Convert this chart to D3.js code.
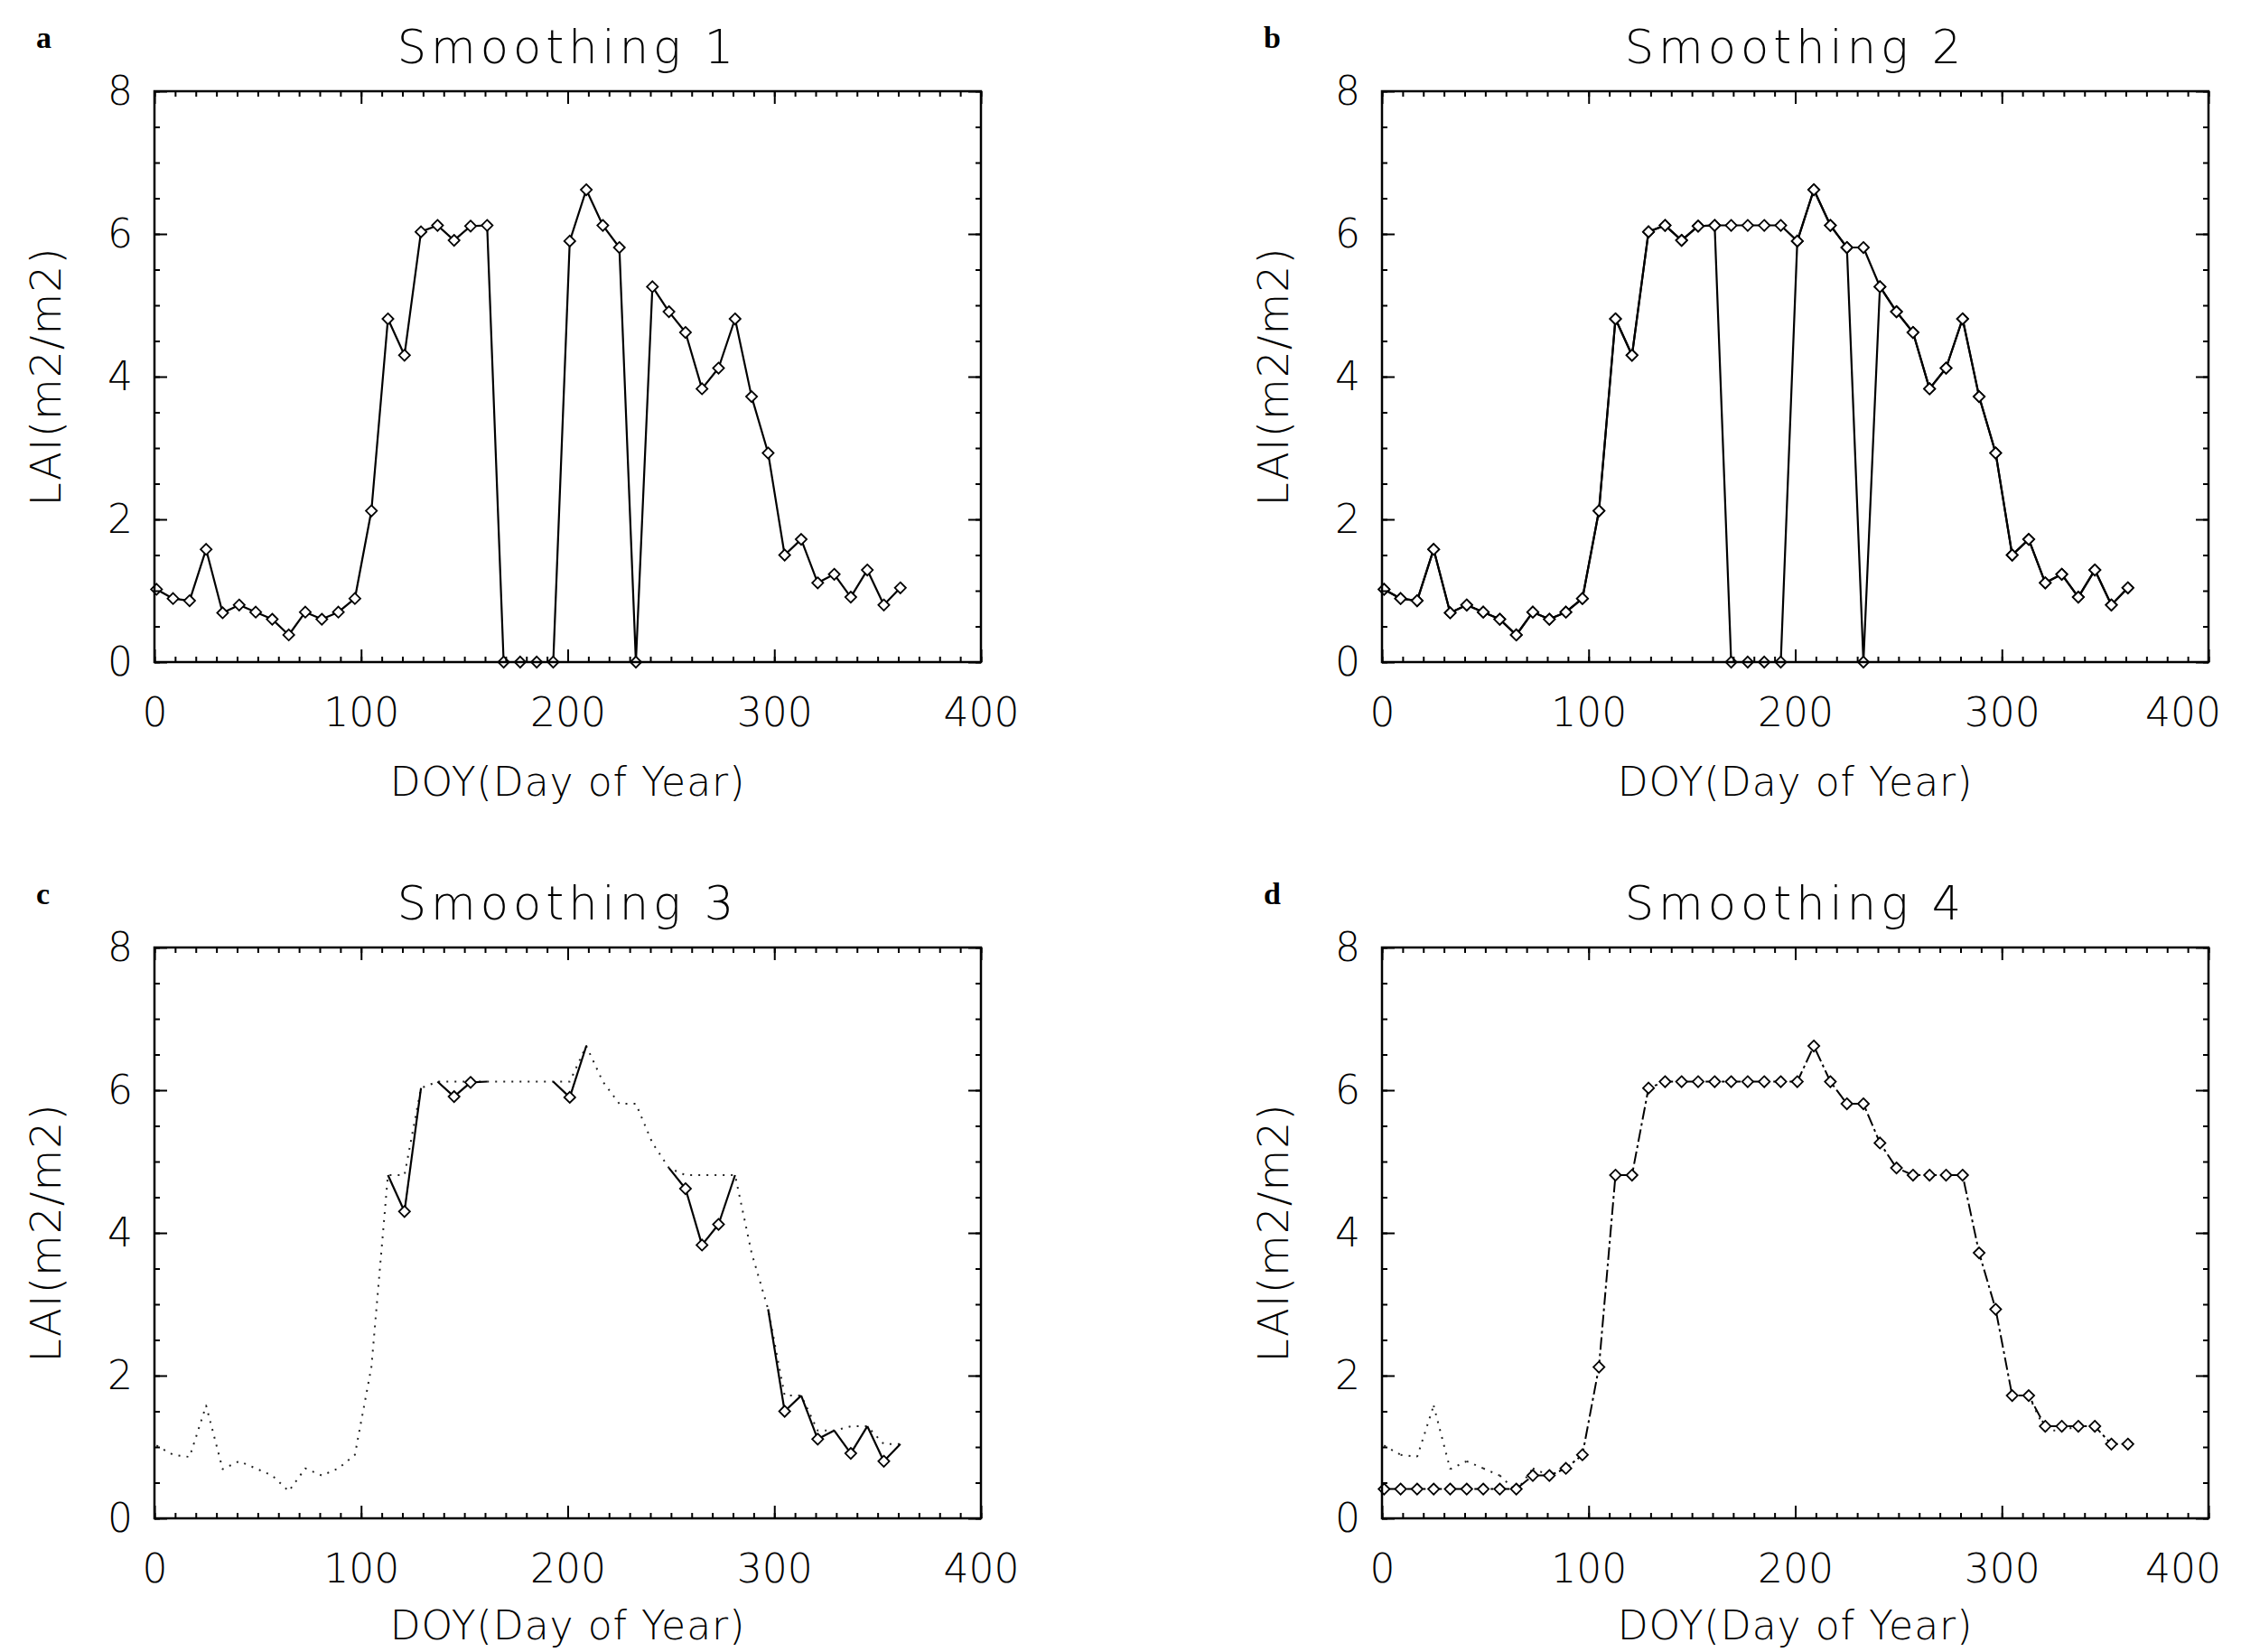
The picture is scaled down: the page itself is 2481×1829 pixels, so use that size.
<!DOCTYPE html>
<html>
<head>
<meta charset="utf-8">
<script src="https://cdn.jsdelivr.net/npm/d3@7"></script>
<style>
  body { margin: 0; background: #fff; }
  svg text { font-family: "DejaVu Sans", "Liberation Sans", sans-serif; font-weight: 300; fill: #000; }
</style>
</head>
<body>
<svg id="chart" width="2481" height="1829"></svg>
<script>
// 8-day composite days of year
const doy = [1, 9, 17, 25, 33, 41, 49, 57, 65, 73, 81, 89, 97, 105, 113, 121, 129, 137, 145, 153,
  161, 169, 177, 185, 193, 201, 209, 217, 225, 233, 241, 249, 257, 265, 273, 281, 289, 297, 305, 313,
  321, 329, 337, 345, 353, 361];

// LAI after each smoothing step
const laiSmooth1 = [1.02, 0.89, 0.86, 1.58, 0.69, 0.80, 0.70, 0.60, 0.38, 0.70, 0.60, 0.70, 0.89, 2.12,
  4.81, 4.30, 6.03, 6.12, 5.91, 6.11, 6.12, 0, 0, 0, 0, 5.90, 6.62, 6.12, 5.81, 0, 5.26, 4.91, 4.62,
  3.83, 4.12, 4.81, 3.72, 2.93, 1.50, 1.72, 1.11, 1.23, 0.91, 1.29, 0.80, 1.04];
const laiSmooth2 = [1.02, 0.89, 0.86, 1.58, 0.69, 0.80, 0.70, 0.60, 0.38, 0.70, 0.60, 0.70, 0.89, 2.12,
  4.81, 4.30, 6.03, 6.12, 5.91, 6.11, 6.12, 6.12, 6.12, 6.12, 6.12, 5.90, 6.62, 6.12, 5.81, 5.81, 5.26,
  4.91, 4.62, 3.83, 4.12, 4.81, 3.72, 2.93, 1.50, 1.72, 1.11, 1.23, 0.91, 1.29, 0.80, 1.04];
const laiSmooth3 = [1.02, 0.89, 0.86, 1.58, 0.69, 0.80, 0.70, 0.60, 0.38, 0.70, 0.60, 0.70, 0.89, 2.12,
  4.81, 4.81, 6.03, 6.12, 6.12, 6.12, 6.12, 6.12, 6.12, 6.12, 6.12, 6.12, 6.62, 6.12, 5.81, 5.81, 5.26,
  4.91, 4.81, 4.81, 4.81, 4.81, 3.72, 2.93, 1.72, 1.72, 1.23, 1.23, 1.29, 1.29, 1.04, 1.04];
const laiSmooth4 = [0.41, 0.41, 0.41, 0.41, 0.41, 0.41, 0.41, 0.41, 0.41, 0.60, 0.60, 0.70, 0.89, 2.12,
  4.81, 4.81, 6.03, 6.12, 6.12, 6.12, 6.12, 6.12, 6.12, 6.12, 6.12, 6.12, 6.62, 6.12, 5.81, 5.81, 5.26,
  4.91, 4.81, 4.81, 4.81, 4.81, 3.72, 2.93, 1.72, 1.72, 1.29, 1.29, 1.29, 1.29, 1.04, 1.04];

const panelTitles = ["Smoothing 1", "Smoothing 2", "Smoothing 3", "Smoothing 4"];
const panelLetters = ["a", "b", "c", "d"];
const xTickValues = [0, 100, 200, 300, 400];
const yTickValues = [0, 2, 4, 6, 8];
const xTitle = "DOY(Day of Year)";
const yTitle = "LAI(m2/m2)";

// which series go in which panel
// onlyWhereDiffers: draw just the segments where this series leaves the other one
const panelSeries = [
  [{ values: laiSmooth1, kind: "solid" }],
  [{ values: laiSmooth1, kind: "solid" }, { values: laiSmooth2, kind: "solid" }],
  [{ values: laiSmooth3, kind: "dotted" }, { values: laiSmooth2, kind: "solid", onlyWhereDiffers: laiSmooth3 }],
  [{ values: laiSmooth3, kind: "dotted", onlyWhereDiffers: laiSmooth4 }, { values: laiSmooth4, kind: "dashdot" }],
];

const lineStyles = {
  solid: { width: 2.2, dash: null, color: "#000", markers: true },
  dotted: { width: 2, dash: "2,7", color: "#222", markers: false },
  dashdot: { width: 2, dash: "14,4,3,4", color: "#000", markers: true },
};

const PAGE_W = 2481, PAGE_H = 1829;
const W = 915, H = 632;
// left, top, gap below plot for the x title
const panelPos = [[171, 101, 148], [1530, 101, 148], [171, 1049, 134], [1530, 1049, 134]];

const svg = d3.select("#chart");
svg.append("rect").attr("width", PAGE_W).attr("height", PAGE_H).attr("fill", "#fff");

const x = d3.scaleLinear().domain([0, 400]).range([0, W]);
const y = d3.scaleLinear().domain([0, 8]).range([H, 0]);
const line = d3.line().x(d => x(d.doy)).y(d => y(d.lai));
const diamond = d3.symbol().type(d3.symbolDiamond2 || d3.symbolDiamond).size(95);

function drawAxes(g) {
  const major = 14, minor = 6;
  const parts = [
    [d3.axisBottom(x).tickValues(xTickValues).tickSize(-major).tickPadding(40), [0, H], true],
    [d3.axisBottom(x).ticks(40).tickSize(-minor).tickFormat(""), [0, H], false],
    [d3.axisTop(x).tickValues(xTickValues).tickSize(-major).tickFormat(""), [0, 0], false],
    [d3.axisTop(x).ticks(40).tickSize(-minor).tickFormat(""), [0, 0], false],
    [d3.axisLeft(y).tickValues(yTickValues).tickSize(-major).tickPadding(24), [0, 0], true],
    [d3.axisLeft(y).ticks(16).tickSize(-minor).tickFormat(""), [0, 0], false],
    [d3.axisRight(y).tickValues(yTickValues).tickSize(-major).tickFormat(""), [W, 0], false],
    [d3.axisRight(y).ticks(16).tickSize(-minor).tickFormat(""), [W, 0], false],
  ];
  parts.forEach(([axis, tr, labels]) => {
    const a = g.append("g").attr("transform", `translate(${tr[0]},${tr[1]})`).call(axis);
    a.attr("font-family", null).attr("font-size", null);
    a.select(".domain").remove();
    a.selectAll(".tick line").attr("stroke", "#000").attr("stroke-width", 2);
    if (labels) {
      a.selectAll(".tick text").attr("font-size", 44).attr("fill", "#000");
    }
  });
  g.append("rect").attr("width", W).attr("height", H)
    .attr("fill", "none").attr("stroke", "#000").attr("stroke-width", 2.5);
}

// the last x label sits pulled in from the page edge, as in the printed figure
function keepLabelsOnPage(g, left) {
  g.selectAll(".tick text").each(function () {
    const b = this.getBBox();
    const tr = this.parentNode.transform.baseVal.consolidate();
    const tx = tr ? tr.matrix.e : 0;
    const right = left + tx + b.x + b.width;
    const limit = PAGE_W - 22;
    if (right > limit) d3.select(this).attr("x", (+d3.select(this).attr("x") || 0) - (right - limit));
  });
}

function drawSeries(g, s) {
  const st = lineStyles[s.kind];
  const pts = doy.map((d, i) => ({ doy: d, lai: s.values[i], i }));
  const differs = i => !s.onlyWhereDiffers || Math.abs(s.values[i] - s.onlyWhereDiffers[i]) > 1e-6;
  const segs = s.onlyWhereDiffers
    ? d3.pairs(pts).filter(([a, b]) => differs(a.i) || differs(b.i))
    : [pts];
  g.append("g").selectAll("path").data(segs).join("path")
    .attr("d", line)
    .attr("fill", "none")
    .attr("stroke", st.color)
    .attr("stroke-width", st.width)
    .attr("stroke-dasharray", st.dash)
    .attr("stroke-linejoin", "round");
  if (st.markers) {
    g.append("g").selectAll("path").data(pts.filter(p => differs(p.i))).join("path")
      .attr("transform", d => `translate(${x(d.doy)},${y(d.lai)})`)
      .attr("d", diamond)
      .attr("fill", "#fff")
      .attr("stroke", "#000")
      .attr("stroke-width", 1.8);
  }
}

panelPos.forEach(([left, top, titleGap], k) => {
  const g = svg.append("g").attr("transform", `translate(${left},${top})`);

  panelSeries[k].forEach(s => drawSeries(g, s));
  drawAxes(g);
  keepLabelsOnPage(g, left);

  g.append("text").attr("x", W / 2).attr("y", -31)
    .attr("text-anchor", "middle").attr("font-size", 51).attr("letter-spacing", 5)
    .text(panelTitles[k]);
  g.append("text").attr("x", W / 2).attr("y", H + titleGap)
    .attr("text-anchor", "middle").attr("font-size", 44).attr("letter-spacing", 1)
    .text(xTitle);
  g.append("text").attr("transform", `translate(-104,${H / 2}) rotate(-90)`)
    .attr("text-anchor", "middle").attr("font-size", 47).attr("letter-spacing", 1)
    .text(yTitle);
  g.append("text").attr("x", -131).attr("y", -48)
    .style("font-family", '"Liberation Serif", "DejaVu Serif", serif')
    .style("font-weight", "bold")
    .attr("font-size", 34)
    .text(panelLetters[k]);
});
</script>
</body>
</html>
